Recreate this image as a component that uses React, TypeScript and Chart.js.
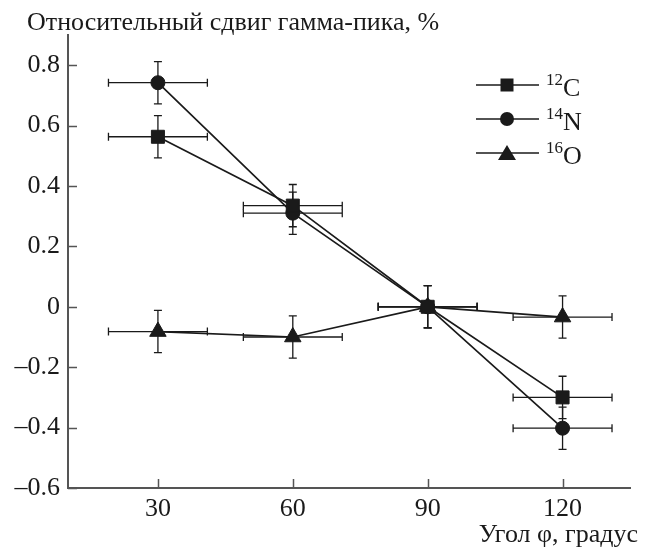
import React, { useEffect, useRef } from "react";
import { Chart, registerables } from "chart.js";

Chart.register(...registerables);

const angles = [30, 60, 90, 120];
const seriesC = [0.563, 0.335, 0, -0.3];
const seriesN = [0.742, 0.31, 0, -0.402];
const seriesO = [-0.082, -0.1, 0, -0.034];
const xErr = [11, 11, 11, 11];
const yErrC = [0.07, 0.07, 0.07, 0.07];
const yErrN = [0.07, 0.07, 0.07, 0.07];
const yErrO = [0.07, 0.07, 0.07, 0.07];
const xTicks = [30, 60, 90, 120];
const yTicks = [-0.6, -0.4, -0.2, 0, 0.2, 0.4, 0.6, 0.8];
const legendMasses = ["12", "14", "16"];
const legendElements = ["C", "N", "O"];
const yTitle = "Относительный сдвиг гамма-пика, %";
const xTitle = "Угол φ, градус";

const SERIF = '"Liberation Serif", "Times New Roman", serif';
const INK = "#1a1a1a";
const AXIS = "#555";

function drawMarker(ctx: CanvasRenderingContext2D, kind: string, x: number, y: number) {
  ctx.save();
  ctx.fillStyle = INK;
  ctx.beginPath();
  if (kind === "rect") {
    ctx.rect(x - 6.5, y - 6.5, 13, 13);
  } else if (kind === "circle") {
    ctx.arc(x, y, 7, 0, Math.PI * 2);
  } else {
    ctx.moveTo(x, y - 8);
    ctx.lineTo(x + 9, y + 7);
    ctx.lineTo(x - 9, y + 7);
    ctx.closePath();
  }
  ctx.fill();
  ctx.restore();
}

const customPlugin = {
  id: "custom",
  beforeDraw(chart: any) {
    const ctx = chart.ctx;
    ctx.save();
    ctx.fillStyle = "#fff";
    ctx.fillRect(0, 0, chart.width, chart.height);
    ctx.restore();
  },
  beforeDatasetsDraw(chart: any) {
    const ctx = chart.ctx;
    const xs = chart.scales.x;
    const ys = chart.scales.y;
    ctx.save();
    ctx.strokeStyle = INK;
    ctx.lineWidth = 1.3;
    chart.data.datasets.forEach((ds: any) => {
      ds.data.forEach((p: any, i: number) => {
        const cx = xs.getPixelForValue(p.x);
        const cy = ys.getPixelForValue(p.y);
        const x1 = xs.getPixelForValue(p.x - ds.xErr[i]);
        const x2 = xs.getPixelForValue(p.x + ds.xErr[i]);
        const y1 = ys.getPixelForValue(p.y + ds.yErr[i]);
        const y2 = ys.getPixelForValue(p.y - ds.yErr[i]);
        ctx.beginPath();
        ctx.moveTo(x1, cy);
        ctx.lineTo(x2, cy);
        ctx.moveTo(x1, cy - 4);
        ctx.lineTo(x1, cy + 4);
        ctx.moveTo(x2, cy - 4);
        ctx.lineTo(x2, cy + 4);
        ctx.moveTo(cx, y1);
        ctx.lineTo(cx, y2);
        ctx.moveTo(cx - 4, y1);
        ctx.lineTo(cx + 4, y1);
        ctx.moveTo(cx - 4, y2);
        ctx.lineTo(cx + 4, y2);
        ctx.stroke();
      });
    });
    ctx.restore();
  },
  afterDraw(chart: any) {
    const ctx = chart.ctx;
    const xs = chart.scales.x;
    const ys = chart.scales.y;
    const area = chart.chartArea;
    ctx.save();
    // inward ticks
    ctx.strokeStyle = AXIS;
    ctx.lineWidth = 1.5;
    ctx.beginPath();
    yTicks.forEach((v) => {
      const y = Math.round(ys.getPixelForValue(v)) + 0.5;
      ctx.moveTo(area.left, y);
      ctx.lineTo(area.left + 9, y);
    });
    xTicks.forEach((v) => {
      const x = Math.round(xs.getPixelForValue(v)) + 0.5;
      ctx.moveTo(x, area.bottom);
      ctx.lineTo(x, area.bottom - 9);
    });
    ctx.stroke();
    // titles
    ctx.fillStyle = INK;
    ctx.font = "26px " + SERIF;
    ctx.textBaseline = "alphabetic";
    ctx.textAlign = "left";
    ctx.fillText(yTitle, 27, 30);
    ctx.textAlign = "right";
    ctx.fillText(xTitle, 638, 542);
    // legend
    const kinds = ["rect", "circle", "triangle"];
    const rows = [85, 119, 153];
    kinds.forEach((k, i) => {
      const ry = rows[i];
      ctx.strokeStyle = INK;
      ctx.lineWidth = 1.6;
      ctx.beginPath();
      ctx.moveTo(476, ry);
      ctx.lineTo(539, ry);
      ctx.stroke();
      drawMarker(ctx, k, 507, ry);
      ctx.fillStyle = INK;
      ctx.textAlign = "left";
      ctx.font = "17px " + SERIF;
      ctx.fillText(legendMasses[i], 546, ry);
      const w = ctx.measureText(legendMasses[i]).width;
      ctx.font = "26px " + SERIF;
      ctx.fillText(legendElements[i], 546 + w, ry + 11);
    });
    ctx.restore();
  },
};

function makeDataset(label: string, values: number[], yErr: number[], style: string, radius: number) {
  return {
    label,
    data: angles.map((a, i) => ({ x: a, y: values[i] })),
    xErr,
    yErr,
    borderColor: INK,
    backgroundColor: INK,
    borderWidth: 1.7,
    pointStyle: style,
    pointRadius: radius,
    pointBorderWidth: 1,
    pointBorderColor: INK,
    pointBackgroundColor: INK,
    showLine: true,
    fill: false,
    tension: 0,
  };
}

export default function App() {
  const ref = useRef<HTMLCanvasElement | null>(null);
  useEffect(() => {
    document.body.style.margin = "0";
    const canvas = ref.current!;
    const chart = new Chart(canvas, {
      type: "scatter",
      data: {
        datasets: [
          makeDataset("12C", seriesC, yErrC, "rect", 9.2),
          makeDataset("14N", seriesN, yErrN, "circle", 7),
          makeDataset("16O", seriesO, yErrO, "triangle", 9.5),
        ] as any,
      },
      options: {
        animation: false,
        responsive: false,
        devicePixelRatio: 1,
        layout: { padding: { top: 35, right: 21, left: 0, bottom: 0 } },
        plugins: { legend: { display: false }, tooltip: { enabled: false }, title: { display: false } },
        scales: {
          x: {
            type: "linear",
            min: 10,
            max: 135,
            afterFit: (s: any) => {
              s.height = 61;
            },
            afterBuildTicks: (s: any) => {
              s.ticks = xTicks.map((v) => ({ value: v }));
            },
            grid: { display: false, drawTicks: false },
            border: { display: true, color: AXIS, width: 2 },
            ticks: {
              color: INK,
              padding: 6,
              font: { family: SERIF, size: 26 },
              maxRotation: 0,
              callback: (v: any) => String(v),
            },
          },
          y: {
            type: "linear",
            min: -0.6,
            max: 0.9,
            afterFit: (s: any) => {
              s.width = 68;
            },
            afterBuildTicks: (s: any) => {
              s.ticks = yTicks.map((v) => ({ value: v }));
            },
            grid: { display: false, drawTicks: false },
            border: { display: true, color: AXIS, width: 2 },
            ticks: {
              color: INK,
              padding: 8,
              font: { family: SERIF, size: 26 },
              callback: (v: any) => {
                const n = Number(v);
                if (Math.abs(n) < 1e-9) return "0";
                const s = Math.abs(n).toFixed(1);
                return n < 0 ? "–" + s : s;
              },
            },
          },
        },
      } as any,
      plugins: [customPlugin],
    });
    return () => chart.destroy();
  }, []);
  return <canvas ref={ref} width={651} height={549} style={{ display: "block", width: 651, height: 549 }} />;
}
